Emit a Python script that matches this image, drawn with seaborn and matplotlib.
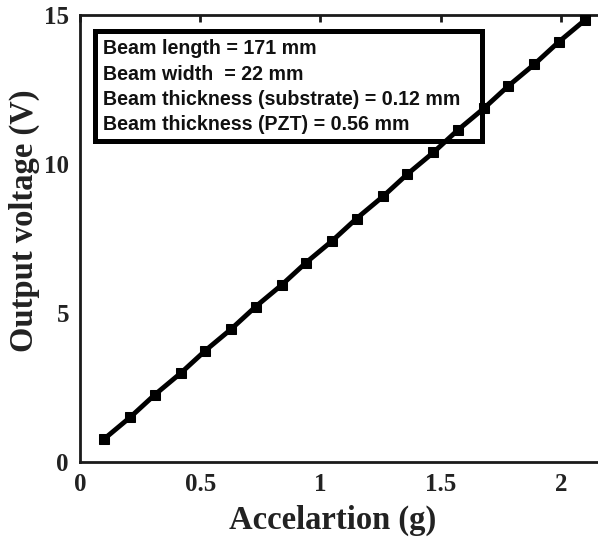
import matplotlib
matplotlib.use("Agg")
import matplotlib.pyplot as plt
from matplotlib.patches import Rectangle
import seaborn as sns
import pandas as pd

# Measured response of the cantilever harvester
acceleration_g = [0.10, 0.21, 0.31, 0.42, 0.52, 0.63, 0.73, 0.84, 0.94, 1.05,
                  1.15, 1.26, 1.36, 1.47, 1.57, 1.68, 1.78, 1.89, 1.99, 2.10]
output_voltage = [0.77, 1.51, 2.25, 2.99, 3.73, 4.47, 5.21, 5.95, 6.69, 7.43,
                  8.17, 8.91, 9.65, 10.39, 11.13, 11.87, 12.61, 13.35, 14.09, 14.83]

x_ticks = [0, 0.5, 1, 1.5, 2]
x_tick_labels = ["0", "0.5", "1", "1.5", "2"]
y_ticks = [0, 5, 10, 15]
y_tick_labels = ["0", "5", "10", "15"]

beam_info = [
    "Beam length = 171 mm",
    "Beam width  = 22 mm",
    "Beam thickness (substrate) = 0.12 mm",
    "Beam thickness (PZT) = 0.56 mm",
]

df = pd.DataFrame({"acc": acceleration_g, "volt": output_voltage})

sns.set_theme(style="white")
plt.rcParams["font.family"] = ["Liberation Serif", "DejaVu Serif"]

fig = plt.figure(figsize=(5.98, 5.40), dpi=100)
W, H = 598, 540
left, right, top, bottom = 80, 609, 15, 462
ax = fig.add_axes([left / W, 1 - bottom / H, (right - left) / W, (bottom - top) / H])

# Annotation box with the beam dimensions (drawn beneath the data line)
ax.add_patch(Rectangle((0.0290, 0.718), 0.760 - 0.0290, 0.965 - 0.718,
                       transform=ax.transAxes, facecolor="white",
                       edgecolor="black", linewidth=3.6, zorder=1))
line_y = [0.924, 0.868, 0.812, 0.756]
for txt, yy in zip(beam_info, line_y):
    ax.text(0.0435, yy, txt, transform=ax.transAxes, ha="left", va="center",
            fontsize=14.1, fontweight="bold", color="#111111",
            family=["Liberation Sans", "DejaVu Sans"], zorder=1.5)

sns.lineplot(data=df, x="acc", y="volt", ax=ax, color="black", linewidth=3.5,
             marker="s", markersize=6.5, markeredgecolor="black",
             markerfacecolor="black", zorder=3)

ax.set_xlim(0, 2.2)
ax.set_ylim(0, 15)
ax.set_xticks(x_ticks)
ax.set_xticklabels(x_tick_labels)
ax.set_yticks(y_ticks)
ax.set_yticklabels(y_tick_labels)

for side in ["left", "bottom", "top", "right"]:
    ax.spines[side].set_color("#1a1a1a")
    ax.spines[side].set_linewidth(2.0)
    ax.spines[side].set_visible(True)

ax.tick_params(axis="both", direction="in", length=5, width=2, color="#1a1a1a",
               top=True, right=True, labelsize=18, pad=8)
for lab in ax.get_xticklabels() + ax.get_yticklabels():
    lab.set_fontweight("bold")
    lab.set_color("#222222")

ax.set_xlabel("Accelartion (g)", fontsize=23.5, fontweight="bold", color="#222222")
ax.set_ylabel("Output voltage (V)", fontsize=23.5, fontweight="bold", color="#222222")
ax.xaxis.set_label_coords(0.478, -0.096)
ax.yaxis.set_label_coords(-0.076, 0.54)

fig.savefig("out.png", dpi=100)
